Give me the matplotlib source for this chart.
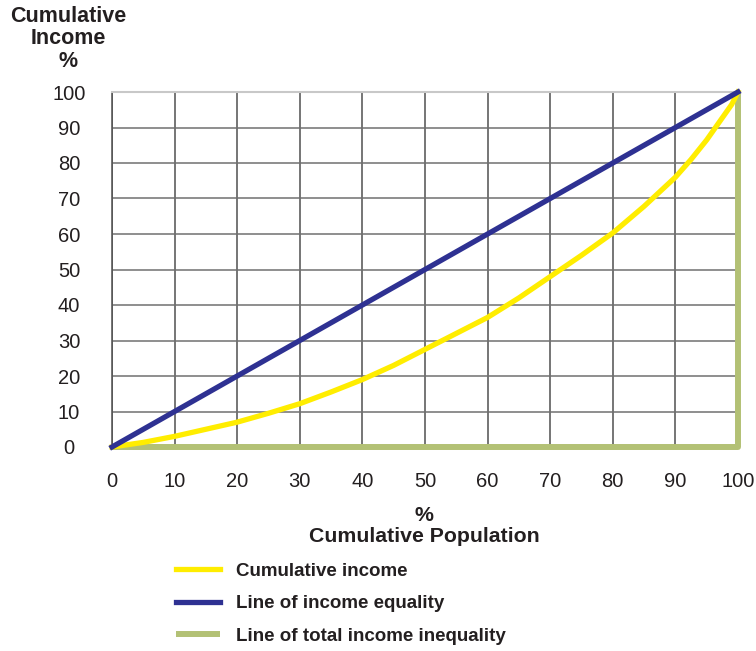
import matplotlib
matplotlib.use("Agg")
import matplotlib.pyplot as plt

# Data
population = [0, 5, 10, 15, 20, 25, 30, 35, 40, 45, 50, 55, 60, 65, 70, 75, 80, 85, 90, 92.5, 95, 97, 99, 100]
cumulative_income = [0, 1.3, 3, 5, 7, 9.5, 12.2, 15.5, 19, 23, 27.5, 32, 36.5, 42, 48, 54, 60.3, 67.8, 76, 81, 86.5, 91.5, 96.5, 100]
equality_x = [0, 100]
equality_y = [0, 100]
inequality_x = [0, 100, 100]
inequality_y = [0, 0, 100]
ticks = [0, 10, 20, 30, 40, 50, 60, 70, 80, 90, 100]
labels = ["Cumulative income", "Line of income equality", "Line of total income inequality"]

plt.rcParams['font.family'] = ['Liberation Sans', 'DejaVu Sans']

W, H = 756, 651
fig = plt.figure(figsize=(W / 100, H / 100), dpi=100)
ax = fig.add_axes([112 / W, 1 - 447 / H, (738 - 112) / W, (447 - 92) / H])

ax.set_xlim(0, 100)
ax.set_ylim(0, 100)
ax.set_xticks(ticks)
ax.set_yticks(ticks)
ax.set_xticklabels([str(t) for t in ticks])
ax.set_yticklabels([str(t) for t in ticks])
ax.tick_params(axis='both', length=0, labelsize=14.5, colors='#231f20')
ax.tick_params(axis='x', pad=18)
ax.tick_params(axis='y', pad=31)
for lab in ax.get_yticklabels():
    lab.set_horizontalalignment('center')

ax.xaxis.grid(True, color='#505050', linewidth=1.1)
ax.yaxis.grid(True, color='#707070', linewidth=1.1)
ax.set_axisbelow(True)
for s in ['right', 'bottom']:
    ax.spines[s].set_visible(False)
ax.spines['top'].set_color('#c8c8c8')
ax.spines['top'].set_linewidth(1.5)
ax.spines['left'].set_color('#505050')
ax.spines['left'].set_linewidth(1.1)

l3, = ax.plot(inequality_x, inequality_y, color='#b3c175', linewidth=4.3, clip_on=False,
              zorder=3, solid_capstyle='butt')
l1, = ax.plot(population, cumulative_income, color='#ffed00', linewidth=3.8, clip_on=False,
              zorder=4)
l2, = ax.plot(equality_x, equality_y, color='#2e3192', linewidth=3.8, clip_on=False,
              zorder=5)

fig.text(68 / W, 1 - 39 / H, "Cumulative\nIncome\n%", ha='center', va='center',
         fontsize=15.5, fontweight='bold', color='#231f20', linespacing=1.08)
fig.text(424 / W, 1 - 526 / H, "%\nCumulative Population", ha='center', va='center',
         fontsize=15.3, fontweight='bold', color='#231f20', linespacing=1.12)

leg = fig.legend([l1, l2, l3], labels, loc='upper left',
                 bbox_to_anchor=(168 / W, 1 - 555 / H), frameon=False,
                 prop={'weight': 'bold', 'size': 13.5}, handlelength=2.35,
                 handletextpad=0.85, labelspacing=0.83, borderaxespad=0)
for t in leg.get_texts():
    t.set_color('#231f20')

fig.savefig("out.png", dpi=100)
